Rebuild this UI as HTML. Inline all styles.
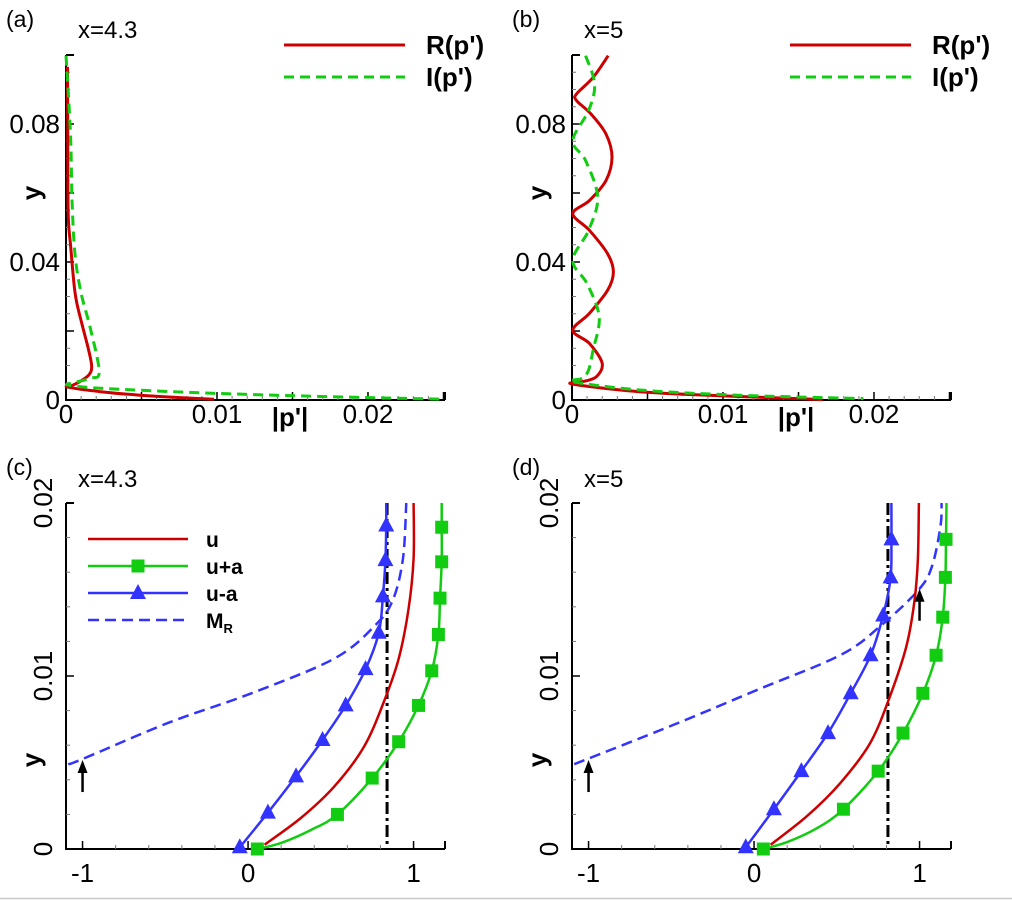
<!DOCTYPE html>
<html><head><meta charset="utf-8"><style>
html,body{margin:0;padding:0;background:#fff;}
svg{display:block;font-family:"Liberation Sans",Arial,sans-serif;}
</style></head><body>
<svg id="fig" width="1012" height="900" viewBox="0 0 1012 900">
<line x1="0" y1="898.5" x2="1012" y2="898.5" stroke="#c8c8c8" stroke-width="1.5"/>
</svg>
<script>
// ---------- data: panel (a) x=4.3 ----------
const aRealX = [0.0001,0.00012,0.00015,0.0003,0.0006,0.001,0.0015,0.0017,0.0015,0.0009,0.0003,0.00015,0.0023,0.0049,0.0071,0.0098];
const aRealY = [0.0966,0.07,0.053,0.045,0.031,0.023,0.0145,0.0096,0.0072,0.0053,0.004,0.0037,0.0024,0.0014,0.0008,0.0002];
const aImagX = [0.0,0.0003,0.0004,0.0006,0.001,0.0016,0.0022,0.0016,0.0003,0.0002,0.0023,0.0089,0.0155,0.0251];
const aImagY = [0.0998,0.077,0.058,0.042,0.031,0.021,0.0082,0.0063,0.0048,0.0043,0.0034,0.0021,0.0012,0.0002];
// ---------- data: panel (b) x=5 ----------
const bRealX = [0.0024,0.0014,0.0003,0.0003,0.00126,0.00225,0.00265,0.00225,0.00115,0.00005,0.00115,0.00236,0.00274,0.00236,0.00115,0.00005,0.00115,0.002,0.0016,0.0007,0.00005,0.0045,0.01,0.015,0.0166];
const bRealY = [0.0998,0.0935,0.0887,0.0868,0.0829,0.0771,0.0704,0.0636,0.0578,0.054,0.0492,0.0424,0.0371,0.0318,0.0251,0.0202,0.0164,0.0106,0.0067,0.0053,0.0046,0.0024,0.0012,0.0004,0.0001];
const bImagX = [0.0009,0.0015,0.0011,0.00005,0.0009,0.0017,0.0011,0.00005,0.001,0.0018,0.0014,0.0011,0.0007,0.00005,0.0045,0.011,0.0193];
const bImagY = [0.0998,0.0916,0.0839,0.0752,0.0694,0.0588,0.0492,0.0405,0.0337,0.0241,0.0145,0.0087,0.0063,0.0053,0.0029,0.0014,0.0004];
// ---------- data: panel (c) x=4.3 ----------
const cUX = [0.10,0.32,0.52,0.70,0.82,0.91,0.97,1.0,1.0];
const cUY = [0.00025,0.0018,0.0036,0.0059,0.0085,0.011,0.0139,0.0168,0.02];
const cUpX = [0.056,0.2,0.38,0.54,0.75,0.91,1.03,1.11,1.15,1.16,1.17,1.17,1.17];
const cUpY = [0.0,0.00035,0.0011,0.002,0.0041,0.0062,0.0083,0.0103,0.0124,0.0145,0.0166,0.0186,0.02];
const cUmX = [-0.05,0.12,0.29,0.45,0.59,0.71,0.79,0.815,0.83,0.835,0.835];
const cUmY = [0.0001,0.0021,0.0042,0.0063,0.0083,0.0104,0.0125,0.0146,0.0167,0.0187,0.02];
const cMX = [-1.087,-1.0,-0.48,0.02,0.52,0.765,0.875,0.936,0.956];
const cMY = [0.0049,0.0052,0.0073,0.009,0.011,0.0129,0.0144,0.0168,0.02];
const cVline = 0.84;
const cArrowX = [-1.0];
const cArrowY = [0.0052];
// ---------- data: panel (d) x=5 ----------
const dUX = [0.10,0.32,0.52,0.70,0.82,0.92,0.97,0.99,0.996];
const dUY = [0.00025,0.0019,0.0038,0.0061,0.0088,0.0117,0.0144,0.0168,0.02];
const dUpX = [0.056,0.2,0.38,0.54,0.75,0.90,1.02,1.10,1.14,1.156,1.16,1.163];
const dUpY = [0.0,0.0004,0.0012,0.0023,0.0045,0.0067,0.009,0.0112,0.0134,0.0157,0.0179,0.02];
const dUmX = [-0.05,0.12,0.286,0.447,0.584,0.704,0.78,0.825,0.83,0.83];
const dUmY = [0.0001,0.0023,0.0045,0.0067,0.009,0.0112,0.0135,0.0157,0.0179,0.02];
const dMX = [-1.087,-0.48,0.02,0.52,0.765,0.996,1.077,1.127,1.133];
const dMY = [0.0049,0.0072,0.0092,0.0112,0.0129,0.015,0.0164,0.0187,0.02];
const dVline = 0.809;
const dArrowX = [-1.0,1.0];
const dArrowY = [0.0052,0.0151];
// ---------- tick labels ----------
const pTickX = [0,0.01,0.02];
const pTickXLabels = ["0","0.01","0.02"];
const pTickY = [0,0.04,0.08];
const pTickYLabels = ["0","0.04","0.08"];
const uTickX = [-1,0,1];
const uTickXLabels = ["-1","0","1"];
const uTickY = [0,0.01,0.02];
const uTickYLabels = ["0","0.01","0.02"];

const NS="http://www.w3.org/2000/svg";
const fig=document.getElementById('fig');
function mk(tag,attrs,parent){const e=document.createElementNS(NS,tag);for(const k in attrs)e.setAttribute(k,attrs[k]);(parent||fig).appendChild(e);return e;}
function txt(s,attrs,parent){const e=mk('text',attrs,parent);e.textContent=s;return e;}

function makeAxes(ox,top,bottom,x0,x1,y0,y1){
  const L=66+ox,R=445+ox;
  return {L,R,top,bottom,
    sx:v=>L+(v-x0)/(x1-x0)*(R-L),
    sy:v=>bottom-(v-y0)/(y1-y0)*(bottom-top)};
}
function smoothPath(ax,xs,ys){
  const p=xs.map((x,i)=>[ax.sx(x),ax.sy(ys[i])]);
  let d='M'+p[0][0].toFixed(1)+','+p[0][1].toFixed(1);
  for(let i=0;i<p.length-1;i++){
    const p0=p[Math.max(0,i-1)],p1=p[i],p2=p[i+1],p3=p[Math.min(p.length-1,i+2)];
    const c1=[p1[0]+(p2[0]-p0[0])/6,p1[1]+(p2[1]-p0[1])/6];
    const c2=[p2[0]-(p3[0]-p1[0])/6,p2[1]-(p3[1]-p1[1])/6];
    d+='C'+c1[0].toFixed(1)+','+c1[1].toFixed(1)+' '+c2[0].toFixed(1)+','+c2[1].toFixed(1)+' '+p2[0].toFixed(1)+','+p2[1].toFixed(1);
  }
  return d;
}
function frame(g,ax,xmin,xmax,xmin_step,xmaj_step,ymin,ymax,ymin_step,ymaj_step){
  mk('path',{d:`M${ax.L},${ax.top}L${ax.L},${ax.bottom}L${ax.R},${ax.bottom}`,fill:'none',stroke:'#000','stroke-width':2},g);
  mk('line',{x1:ax.L,y1:ax.top,x2:ax.L+8,y2:ax.top,stroke:'#000','stroke-width':2},g);
  mk('line',{x1:ax.R,y1:ax.bottom,x2:ax.R,y2:ax.bottom-8,stroke:'#000','stroke-width':2},g);
  const nx=Math.round((xmax-xmin)/xmin_step);
  for(let i=0;i<=nx;i++){const v=xmin+i*xmin_step;const maj=Math.abs(v/xmaj_step-Math.round(v/xmaj_step))<1e-6;
    const x=ax.sx(v);if(x>ax.R+0.5)break;
    mk('line',{x1:x,y1:ax.bottom,x2:x,y2:ax.bottom-(maj?8:4),stroke:maj?'#000':'#777','stroke-width':maj?1.5:1},g);}
  const ny=Math.round((ymax-ymin)/ymin_step);
  for(let i=0;i<=ny;i++){const v=ymin+i*ymin_step;const maj=Math.abs(v/ymaj_step-Math.round(v/ymaj_step))<1e-6;
    const y=ax.sy(v);
    mk('line',{x1:ax.L,y1:y,x2:ax.L+(maj?8:4),y2:y,stroke:maj?'#000':'#777','stroke-width':maj?1.5:1},g);}
}

// ---------- panels (a),(b) ----------
function pPanel(ox,letter,title,rx,ry,ix,iy){
  const g=mk('g',{});
  
  
  const ax=makeAxes(ox,55,400,0,0.0251,0,0.1);
  frame(g,ax,0,0.025,0.001,0.005,0,0.1,0.005,0.02);
  pTickX.forEach((v,i)=>{const t=txt(pTickXLabels[i],{x:ax.sx(v),y:423,'font-size':26,'text-anchor':'middle'},g);
    });
  pTickY.forEach((v,i)=>{const t=txt(pTickYLabels[i],{x:ox+60,y:ax.sy(v)+9,'font-size':26,'text-anchor':'end'},g);
    });
  const xt=txt("|p'|",{x:ox+290,y:426,'font-size':26,'font-weight':'bold','text-anchor':'middle'},g);
  
  const yt=txt('y',{x:0,y:0,'font-size':26,'font-weight':'bold','text-anchor':'middle',transform:`translate(${ox+40},193) rotate(-90)`},g);
  
  const pl=txt('('+letter+')',{x:ox+6,y:27,'font-size':23},g);
  
  const tt=txt(title,{x:ox+78,y:38,'font-size':24},g);
  
  const r=mk('path',{d:smoothPath(ax,rx,ry),fill:'none',stroke:'#cc0000','stroke-width':3,'stroke-linejoin':'round'},g);
  
  const im=mk('path',{d:smoothPath(ax,ix,iy),fill:'none',stroke:'#11cc11','stroke-width':3,'stroke-dasharray':'10,6','stroke-linejoin':'round'},g);
  
  // legend
  const lg=mk('g',{},g);
  
  mk('line',{x1:ox+284,y1:45,x2:ox+405,y2:45,stroke:'#cc0000','stroke-width':3},lg);
  mk('line',{x1:ox+284,y1:77,x2:ox+405,y2:77,stroke:'#11cc11','stroke-width':3,'stroke-dasharray':'10,6'},lg);
  const l1=txt("R(p')",{x:ox+426,y:54,'font-size':26,'font-weight':'bold'},lg);
  
  const l2=txt("I(p')",{x:ox+426,y:86,'font-size':26,'font-weight':'bold'},lg);
  
}
pPanel(0,'a','x=4.3',aRealX,aRealY,aImagX,aImagY);
pPanel(506,'b','x=5',bRealX,bRealY,bImagX,bImagY);

// ---------- panels (c),(d) ----------
function square(g,x,y){const s=mk('rect',{x:x-6.5,y:y-6.5,width:13,height:13,fill:'#11cc11'},g);}
function tri(g,x,y){const s=mk('polygon',{points:`${x},${y-9} ${x-8},${y+6} ${x+8},${y+6}`,fill:'#3333ff'},g);}
function arrow(g,x,y){
  const a=mk('g',{},g);
  mk('line',{x1:x,y1:y+32,x2:x,y2:y+6,stroke:'#000','stroke-width':2.5},a);
  mk('polygon',{points:`${x},${y} ${x-5},${y+13} ${x+5},${y+13}`,fill:'#000'},a);
}
function uPanel(ox,letter,title,ux,uy,upx,upy,umx,umy,mx,my,vl,arx,ary,legend){
  const g=mk('g',{});
  
  
  const ax=makeAxes(ox,503,849,-1.1,1.19,0,0.02);
  frame(g,ax,-1.0,1.2,0.2,1.0,0,0.02,0.002,0.01);
  uTickX.forEach((v,i)=>{const t=txt(uTickXLabels[i],{x:ax.sx(v),y:882,'font-size':26,'text-anchor':'middle'},g);
    });
  uTickY.forEach((v,i)=>{const t=txt(uTickYLabels[i],{x:0,y:0,'font-size':26,'text-anchor':'middle',transform:`translate(${ox+52},${ax.sy(v)}) rotate(-90)`},g);
    });
  const yt=txt('y',{x:0,y:0,'font-size':26,'font-weight':'bold','text-anchor':'middle',transform:`translate(${ox+40},760) rotate(-90)`},g);
  
  const pl=txt('('+letter+')',{x:ox+6,y:475,'font-size':23},g);
  
  const tt=txt(title,{x:ox+78,y:487,'font-size':24},g);
  
  const vx=ax.sx(vl);
  const v=mk('line',{x1:vx,y1:ax.top,x2:vx,y2:ax.bottom-4,stroke:'#000','stroke-width':3,'stroke-dasharray':'12,4,3,4'},g);
  
  const m=mk('path',{d:smoothPath(ax,mx,my),fill:'none',stroke:'#3333ff','stroke-width':2.5,'stroke-dasharray':'11,6'},g);
  
  const u=mk('path',{d:smoothPath(ax,ux,uy),fill:'none',stroke:'#cc0000','stroke-width':2.5},g);
  
  const up=mk('path',{d:smoothPath(ax,upx,upy),fill:'none',stroke:'#11cc11','stroke-width':2.5},g);
  
  const um=mk('path',{d:smoothPath(ax,umx,umy),fill:'none',stroke:'#3333ff','stroke-width':2.5},g);
  
  for(let i=0;i<upx.length;i++){if(upy[i]<0.0199 && (i===0||upy[i]>0.0018))square(g,ax.sx(upx[i]),ax.sy(upy[i]));}
  for(let i=0;i<umx.length;i++){if(umy[i]<0.0199)tri(g,ax.sx(umx[i]),ax.sy(umy[i]));}
  for(let i=0;i<arx.length;i++)arrow(g,ax.sx(arx[i]),ax.sy(ary[i])+1);
  if(legend){
    const lg=mk('g',{},g);
    const ys=[539,566,593,620];
    mk('line',{x1:ox+88,y1:ys[0],x2:ox+188,y2:ys[0],stroke:'#cc0000','stroke-width':2.5},lg);
    mk('line',{x1:ox+88,y1:ys[1],x2:ox+188,y2:ys[1],stroke:'#11cc11','stroke-width':2.5},lg);
    square(lg,ox+138,ys[1]);
    mk('line',{x1:ox+88,y1:ys[2],x2:ox+188,y2:ys[2],stroke:'#3333ff','stroke-width':2.5},lg);
    tri(lg,ox+138,ys[2]);
    mk('line',{x1:ox+88,y1:ys[3],x2:ox+188,y2:ys[3],stroke:'#3333ff','stroke-width':2.5,'stroke-dasharray':'11,6'},lg);
    const names=['u','u+a','u-a'];
    names.forEach((n,i)=>{const t=txt(n,{x:ox+206,y:ys[i]+8,'font-size':21,'font-weight':'bold'},lg);
      });
    const t=txt('M',{x:ox+206,y:ys[3]+8,'font-size':21,'font-weight':'bold'},lg);
    
    const s=mk('tspan',{'font-size':13,dy:5},t);s.textContent='R';
  }
}
uPanel(0,'c','x=4.3',cUX,cUY,cUpX,cUpY,cUmX,cUmY,cMX,cMY,cVline,cArrowX,cArrowY,true);
uPanel(506,'d','x=5',dUX,dUY,dUpX,dUpY,dUmX,dUmY,dMX,dMY,dVline,dArrowX,dArrowY,false);
</script>
</body></html>
